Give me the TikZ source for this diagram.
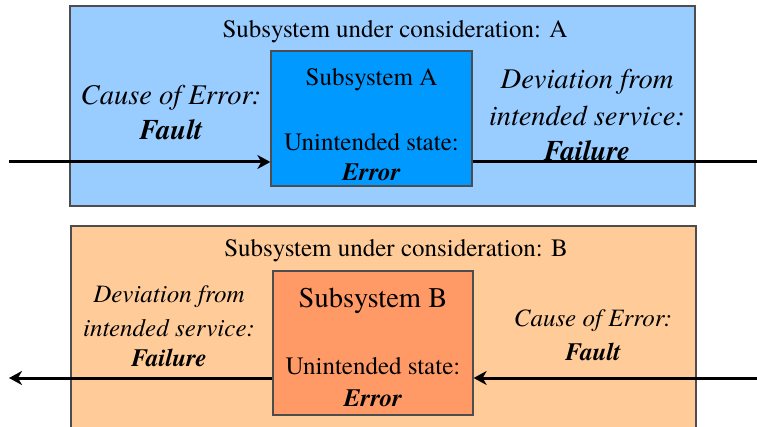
\documentclass[tikz,border=0pt]{standalone}
\usepackage{fontspec}
\setmainfont{TeX Gyre Termes}
\usetikzlibrary{arrows.meta}
\definecolor{outerA}{HTML}{99CCFF}
\definecolor{innerA}{HTML}{0099FF}
\definecolor{outerB}{HTML}{FFCC99}
\definecolor{innerB}{HTML}{FF9966}
\definecolor{edge}{HTML}{4D4D4D}
\tikzset{
  frame/.style={draw=edge, line width=1.3pt},
  lbl/.style={inner sep=0pt, align=center},
  flow/.style={line width=3pt, -{Stealth[length=13pt, width=14pt, inset=4pt]}},
  wire/.style={line width=3pt},
}
\begin{document}
\begin{tikzpicture}[x=1pt, y=-1pt]
\useasboundingbox (0,0) rectangle (757,427);

% --- Subsystem A ---
\path[frame, fill=outerA] (70,6) rectangle (695,206);
\node[lbl, font=\fontsize{25}{30}\selectfont] (titleA) at (395,32) {Subsystem under consideration: A};
\node[frame, fill=innerA, minimum width=201pt, minimum height=135pt, inner sep=0pt] (boxA) at (371.5,118.5) {};
\node[lbl, font=\fontsize{25}{30}\selectfont] (nameA) at (371.5,80) {Subsystem A};
\node[lbl, font=\fontsize{25}{30}\selectfont] (stateA) at (371.5,142) {Unintended state:};
\node[lbl, font=\fontsize{25}{30}\selectfont\bfseries\itshape] (errA) at (371.5,172) {Error};
\node[lbl, font=\fontsize{28.5}{34.5}\selectfont\itshape] (causeA) at (171,98) {Cause of Error:};
\node[lbl, font=\fontsize{28.5}{34.5}\selectfont\bfseries\itshape] (faultA) at (171,130) {Fault};
\node[lbl, font=\fontsize{28.5}{34.5}\selectfont\itshape] (devA) at (587,82) {Deviation from};
\node[lbl, font=\fontsize{28.5}{34.5}\selectfont\itshape] (servA) at (587,116) {intended service:};
\node[lbl, font=\fontsize{28.5}{34.5}\selectfont\bfseries\itshape] (failA) at (587,151) {Failure};
\coordinate (inA) at (9,162);
\coordinate (outA) at (757,162);
\draw[flow] (inA) -- (inA -| boxA.west);
\draw[wire] (outA -| boxA.east) -- (outA);

% --- Subsystem B ---
\path[frame, fill=outerB] (71,226) rectangle (696,440);
\node[lbl, font=\fontsize{25}{30}\selectfont] (titleB) at (396,251) {Subsystem under consideration: B};
\node[frame, fill=innerB, minimum width=200pt, minimum height=144pt, inner sep=0pt] (boxB) at (373,343) {};
\node[lbl, font=\fontsize{28.5}{34}\selectfont] (nameB) at (373,301) {Subsystem B};
\node[lbl, font=\fontsize{25}{30}\selectfont] (stateB) at (373,366) {Unintended state:};
\node[lbl, font=\fontsize{25}{30}\selectfont\bfseries\itshape] (errB) at (373,398) {Error};
\node[lbl, font=\fontsize{25}{30}\selectfont\itshape] (devB) at (169,297) {Deviation from};
\node[lbl, font=\fontsize{25}{30}\selectfont\itshape] (servB) at (169,328) {intended service:};
\node[lbl, font=\fontsize{25}{30}\selectfont\bfseries\itshape] (failB) at (169,358) {Failure};
\node[lbl, font=\fontsize{25}{30}\selectfont\itshape] (causeB) at (593,321) {Cause of Error:};
\node[lbl, font=\fontsize{25}{30}\selectfont\bfseries\itshape] (faultB) at (593,352) {Fault};
\coordinate (inB) at (757,378);
\coordinate (outB) at (9,378);
\draw[flow] (inB) -- (inB -| boxB.east);
\draw[flow] (outB -| boxB.west) -- (outB);
\end{tikzpicture}
\end{document}
